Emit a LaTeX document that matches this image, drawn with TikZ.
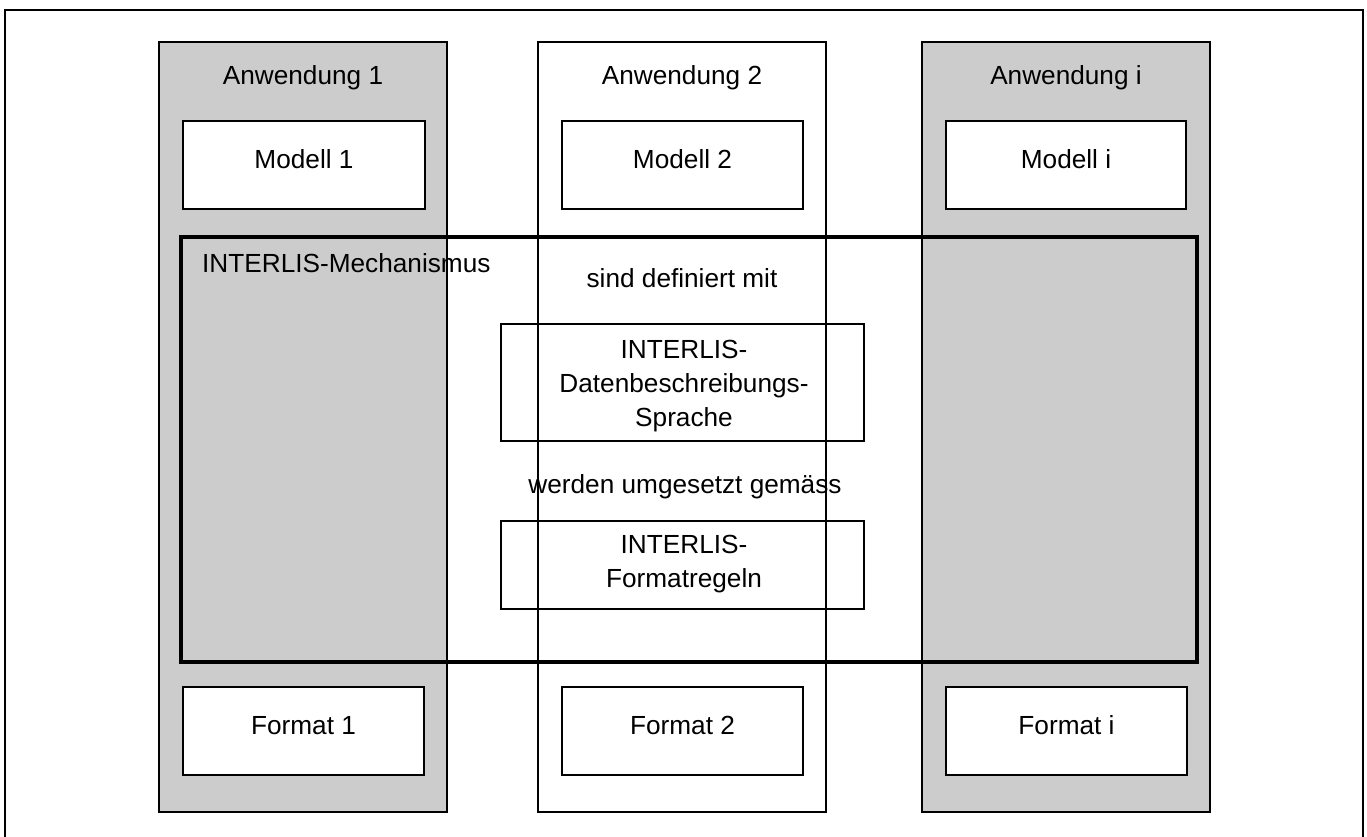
\documentclass[tikz,border=0pt]{standalone}
\usepackage{fontspec}
\setmainfont{Liberation Sans}
\begin{document}
\begin{tikzpicture}[x=1pt,y=-1pt,
  thin line/.style={line width=1.8pt, draw=black},
  colgray/.style={fill=black!20, inner sep=0pt},
  colwhite/.style={fill=white, inner sep=0pt},
  inbox/.style={thin line, fill=white, inner sep=0pt},
  midbox/.style={thin line, inner sep=0pt},
  mech/.style={line width=4.5pt, draw=black, inner sep=0pt},
  lbl/.style={font=\fontsize{26.2}{34}\selectfont, inner sep=0pt, anchor=base, align=center}]
\useasboundingbox (0,0) rectangle (1367,837);
\draw[line width=1.5pt] (5,840) -- (5,10) -- (1363,10) -- (1363,840);
% columns
\node[colgray, minimum width=288pt, minimum height=770pt] (c1) at (303,427) {};
\node[colwhite, minimum width=288pt, minimum height=770pt] (c2) at (682,427) {};
\node[colgray, minimum width=288pt, minimum height=770pt] (c3) at (1066,427) {};
% model boxes
\node[inbox, minimum width=242pt, minimum height=88pt] (m1) at (304,165) {};
\node[inbox, minimum width=241pt, minimum height=88pt] (m2) at (682.5,165) {};
\node[inbox, minimum width=240pt, minimum height=88pt] (m3) at (1066,165) {};
% format boxes
\node[inbox, minimum width=241pt, minimum height=88pt] (f1) at (303.5,731) {};
\node[inbox, minimum width=241pt, minimum height=88pt] (f2) at (682.5,731) {};
\node[inbox, minimum width=241pt, minimum height=88pt] (f3) at (1066.5,731) {};
% mechanism box
\node[mech, minimum width=1016pt, minimum height=425pt] (mech) at (689,449.5) {};
% middle boxes
\node[midbox, minimum width=363pt, minimum height=117pt] (dbs) at (682.5,382.5) {};
\node[midbox, minimum width=363pt, minimum height=88pt] (fr) at (682.5,565) {};
% labels
\node[lbl] (a1) at (303,85) {Anwendung 1};
\node[lbl] (a2) at (682,85) {Anwendung 2};
\node[lbl] (a3) at (1066,85) {Anwendung i};
\node[lbl] (tm1) at (304,169) {Modell 1};
\node[lbl] (tm2) at (682.5,169) {Modell 2};
\node[lbl] (tm3) at (1066,169) {Modell i};
\node[lbl] (tf1) at (303.5,734) {Format 1};
\node[lbl] (tf2) at (682.5,734) {Format 2};
\node[lbl] (tf3) at (1066.5,734) {Format i};
\node[lbl, anchor=base west] (mt) at (202,272) {INTERLIS-Mechanismus};
\node[lbl] (sd) at (682,287) {sind definiert mit};
\node[lbl] (tdbs) at (684,426) {INTERLIS-\\Datenbeschreibungs-\\Sprache};
\node[lbl] (wu) at (685,493) {werden umgesetzt gemäss};
\node[lbl] (tfr) at (684,587) {INTERLIS-\\Formatregeln};
% column outlines over everything
\draw[thin line] (c1.north west) rectangle (c1.south east);
\draw[thin line] (c2.north west) rectangle (c2.south east);
\draw[thin line] (c3.north west) rectangle (c3.south east);
\end{tikzpicture}
\end{document}
